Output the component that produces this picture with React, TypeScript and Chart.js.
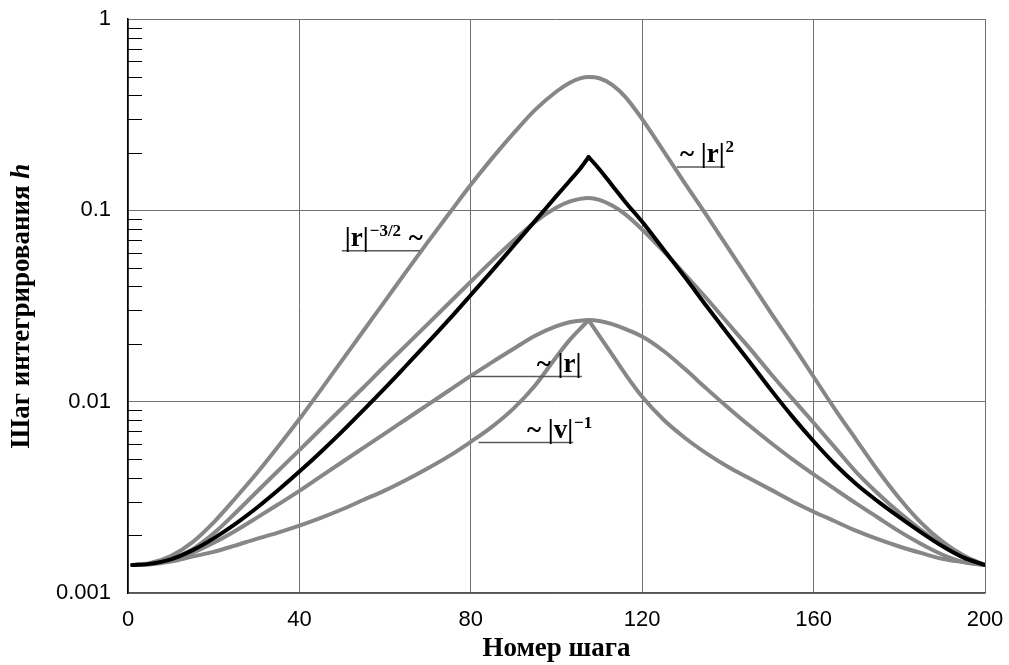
import React, { useEffect, useRef } from 'react';
import { Chart, registerables } from 'chart.js';

Chart.register(...registerables);

// Step numbers (x)
const steps = [1, 5, 10, 15, 20, 25, 30, 35, 40, 45, 50, 55, 60, 65, 70, 75, 80, 85, 90, 95, 100, 103, 105.5, 107.5, 110, 113, 116, 120, 125, 130, 135, 140, 145, 150, 155, 160, 165, 170, 175, 180, 185, 190, 195, 200];

// Integration step h for each rule
const hTop = [0.0014, 0.00143, 0.00156, 0.00184, 0.00234, 0.00312, 0.00421, 0.00581, 0.00811, 0.01153, 0.01648, 0.02355, 0.03365, 0.0481, 0.0684, 0.0966, 0.136, 0.1875, 0.253, 0.335, 0.418, 0.463, 0.489, 0.497, 0.49, 0.453, 0.393, 0.3, 0.204, 0.138, 0.0944, 0.0638, 0.0432, 0.0292, 0.02, 0.0135, 0.00912, 0.0063, 0.00437, 0.00313, 0.00234, 0.00186, 0.00157, 0.0014];
const hBlack = [0.0014, 0.00142, 0.0015, 0.00167, 0.00193, 0.00229, 0.00278, 0.00344, 0.00431, 0.00546, 0.00699, 0.00906, 0.0118, 0.0155, 0.0204, 0.027, 0.0361, 0.0484, 0.0653, 0.0881, 0.119, 0.142, 0.165, 0.19, 0.164, 0.135, 0.111, 0.0871, 0.0624, 0.0447, 0.0316, 0.0226, 0.0162, 0.01156, 0.00838, 0.00621, 0.00471, 0.0037, 0.00301, 0.00249, 0.00208, 0.00176, 0.00153, 0.0014];
const hMid = [0.0014, 0.00142, 0.0015, 0.00169, 0.00205, 0.00261, 0.00337, 0.00434, 0.00558, 0.0072, 0.00927, 0.0119, 0.0154, 0.0198, 0.0255, 0.0329, 0.0424, 0.0546, 0.0695, 0.0871, 0.1035, 0.111, 0.1148, 0.1161, 0.1135, 0.106, 0.0955, 0.0794, 0.061, 0.0462, 0.0347, 0.0257, 0.0191, 0.014, 0.0104, 0.00776, 0.00575, 0.00427, 0.00331, 0.00263, 0.00214, 0.00178, 0.00155, 0.0014];
const hR = [0.0014, 0.00142, 0.00149, 0.00162, 0.00183, 0.00211, 0.00247, 0.0029, 0.00342, 0.00407, 0.00484, 0.00575, 0.00683, 0.00812, 0.00965, 0.01147, 0.01363, 0.0161, 0.0189, 0.0221, 0.0248, 0.026, 0.0265, 0.0267, 0.0264, 0.0254, 0.024, 0.0219, 0.0184, 0.0148, 0.0117, 0.00933, 0.0075, 0.0061, 0.00501, 0.00417, 0.00349, 0.00293, 0.00248, 0.0021, 0.00181, 0.00159, 0.00145, 0.0014];
const hV = [0.0014, 0.00141, 0.00146, 0.00155, 0.00164, 0.00177, 0.00192, 0.00207, 0.00225, 0.00247, 0.00274, 0.00307, 0.00344, 0.00391, 0.00449, 0.00521, 0.00617, 0.00741, 0.00923, 0.01216, 0.01718, 0.0209, 0.024, 0.0267, 0.0221, 0.0176, 0.014, 0.0106, 0.00804, 0.00646, 0.00537, 0.00457, 0.00398, 0.00347, 0.00302, 0.00266, 0.00237, 0.00211, 0.00191, 0.00175, 0.00162, 0.00151, 0.00145, 0.0014];

// index of the sharp peak (step 107.5) for the black and |v|^-1 curves
const peakIndex = 23;

const xTicks = [0, 40, 80, 120, 160, 200];
const yTicks = [0.001, 0.01, 0.1, 1];
const yMinorTicks = [
  0.002, 0.003, 0.004, 0.005, 0.006, 0.007, 0.008, 0.009,
  0.02, 0.03, 0.04, 0.05, 0.06, 0.07, 0.08, 0.09,
  0.2, 0.3, 0.4, 0.5, 0.6, 0.7, 0.8, 0.9,
];

const xTitle = 'Номер шага';
const yTitleMain = 'Шаг интегрирования ';
const yTitleVar = 'h';

// Curve labels: [text, superscript?] parts, anchored at data coordinates
const curveLabels = [
  { textX: 50.6, lineFrom: 49.9, lineTo: 68.1, lineY: 0.0614, parts: [['|r|', false], ['−3/2', true], [' ~', false]] },
  { textX: 128.8, lineFrom: 128.1, lineTo: 139.3, lineY: 0.1686, parts: [['~ |r|', false], ['2', true]] },
  { textX: 95.4, lineFrom: 80.2, lineTo: 105.9, lineY: 0.01352, parts: [['~ |r|', false]] },
  { textX: 93.1, lineFrom: 81.8, lineTo: 103.9, lineY: 0.00611, parts: [['~ |v|', false], ['−1', true]] },
];

const GRAY = '#878787';
const GRID = '#707070';
const SERIF = '"Liberation Serif", "Times New Roman", serif';
const SANS = '"Liberation Sans", Arial, sans-serif';

const decorPlugin = {
  id: 'decor',
  afterDraw(chart: any) {
    const ctx = chart.ctx;
    const xs = chart.scales.x;
    const ys = chart.scales.y;
    const area = chart.chartArea;
    ctx.save();
    // minor ticks on the y axis (inside the plot)
    ctx.strokeStyle = '#000';
    ctx.lineWidth = 1;
    for (const v of yMinorTicks) {
      const y = Math.round(ys.getPixelForValue(v)) + 0.5;
      ctx.beginPath();
      ctx.moveTo(area.left, y);
      ctx.lineTo(area.left + 14, y);
      ctx.stroke();
    }
    // curve labels
    for (const lab of curveLabels) {
      const ly = ys.getPixelForValue(lab.lineY);
      ctx.strokeStyle = '#5a5a5a';
      ctx.lineWidth = 1.5;
      ctx.beginPath();
      ctx.moveTo(xs.getPixelForValue(lab.lineFrom), ly);
      ctx.lineTo(xs.getPixelForValue(lab.lineTo), ly);
      ctx.stroke();
      let x = xs.getPixelForValue(lab.textX);
      const base = ly - 5;
      ctx.fillStyle = '#000';
      ctx.textBaseline = 'alphabetic';
      ctx.textAlign = 'left';
      for (const [t, sup] of lab.parts as [string, boolean][]) {
        ctx.font = sup ? `bold 17px ${SERIF}` : `bold 27px ${SERIF}`;
        ctx.fillText(t, x, sup ? base - 10 : base);
        x += ctx.measureText(t).width + 1;
      }
    }
    // y axis title
    const cy = (area.top + area.bottom) / 2;
    ctx.translate(22, cy);
    ctx.rotate(-Math.PI / 2);
    ctx.font = `bold 27px ${SERIF}`;
    const w1 = ctx.measureText(yTitleMain).width;
    ctx.font = `italic bold 27px ${SERIF}`;
    const w2 = ctx.measureText(yTitleVar).width;
    const start = -(w1 + w2) / 2;
    ctx.textBaseline = 'middle';
    ctx.textAlign = 'left';
    ctx.fillStyle = '#000';
    ctx.font = `bold 27px ${SERIF}`;
    ctx.fillText(yTitleMain, start, 0);
    ctx.font = `italic bold 27px ${SERIF}`;
    ctx.fillText(yTitleVar, start + w1, 0);
    ctx.restore();
  },
};

function series(vals: number[], from = 0, to = steps.length) {
  return steps.slice(from, to).map((x, i) => ({ x, y: vals[from + i] }));
}

const lineBase = { borderWidth: 4, pointRadius: 0, cubicInterpolationMode: 'monotone', borderJoinStyle: 'round', borderCapStyle: 'round' };

export default function App() {
  const ref = useRef<HTMLCanvasElement>(null);
  useEffect(() => {
    if (!ref.current) return;
    const chart = new Chart(ref.current, {
      type: 'line',
      data: {
        datasets: [
          { ...lineBase, label: 'black rise', data: series(hBlack, 0, peakIndex + 1), borderColor: '#000' },
          { ...lineBase, label: 'black fall', data: series(hBlack, peakIndex), borderColor: '#000' },
          { ...lineBase, label: 'r2', data: series(hTop), borderColor: GRAY },
          { ...lineBase, label: 'mid', data: series(hMid), borderColor: GRAY },
          { ...lineBase, label: 'r', data: series(hR), borderColor: GRAY },
          { ...lineBase, label: 'v rise', data: series(hV, 0, peakIndex + 1), borderColor: GRAY },
          { ...lineBase, label: 'v fall', data: series(hV, peakIndex), borderColor: GRAY },
        ] as any,
      },
      options: {
        animation: false,
        responsive: false,
        devicePixelRatio: 1,
        layout: { padding: { left: 0, top: 19, right: 24, bottom: 0 } },
        plugins: { legend: { display: false }, tooltip: { enabled: false } },
        scales: {
          x: {
            type: 'linear',
            min: 0,
            max: 200,
            afterBuildTicks: (s: any) => { s.ticks = xTicks.map((v) => ({ value: v })); },
            afterFit: (s: any) => { s.height = 72; s.paddingLeft = 0; s.paddingRight = 0; },
            ticks: { font: { family: SANS, size: 22 }, color: '#000', padding: 14, maxRotation: 0 },
            grid: { color: GRID, lineWidth: 1, drawTicks: false },
            border: { color: '#555', width: 1.5 },
            title: { display: true, text: xTitle, color: '#000', font: { family: SERIF, size: 27, weight: 'bold' }, padding: { top: 0, bottom: 0 } },
          },
          y: {
            type: 'logarithmic',
            min: 0.001,
            max: 1,
            afterBuildTicks: (s: any) => { s.ticks = yTicks.map((v) => ({ value: v })); },
            afterFit: (s: any) => { s.width = 128; s.paddingTop = 0; s.paddingBottom = 0; },
            ticks: { font: { family: SANS, size: 22 }, color: '#000', padding: 17, callback: (v: any) => String(v) },
            grid: { color: GRID, lineWidth: 1, drawTicks: false },
            border: { color: '#000', width: 1.5 },
          },
        },
      } as any,
      plugins: [decorPlugin],
    });
    return () => chart.destroy();
  }, []);
  return (
    <div style={{ position: 'absolute', left: 0, top: 0, width: 1009, height: 665, background: '#fff' }}>
      <canvas ref={ref} width={1009} height={665} />
    </div>
  );
}
